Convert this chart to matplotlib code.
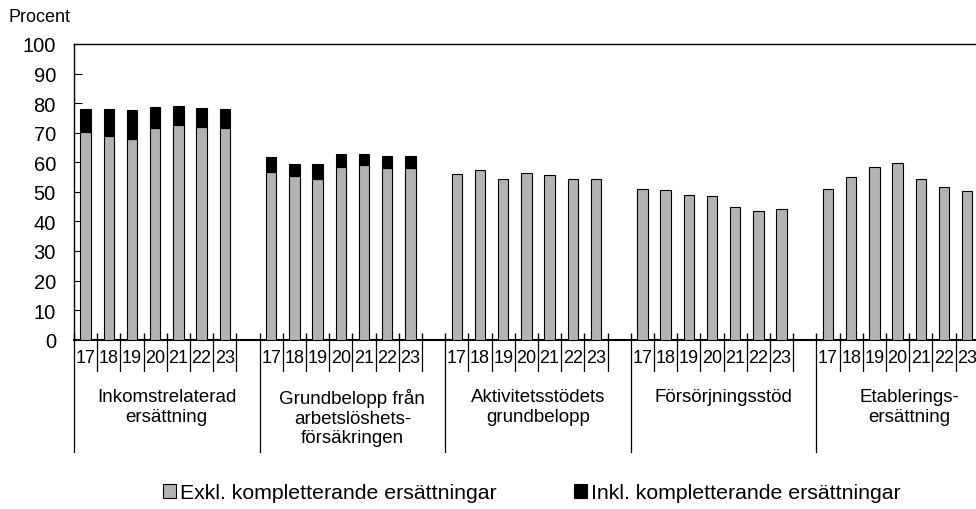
import matplotlib.pyplot as plt
from matplotlib.patches import Patch
from matplotlib.transforms import blended_transform_factory

plt.rcParams["font.family"] = ["Liberation Sans", "DejaVu Sans"]

groups = [
    "Inkomstrelaterad\nersättning",
    "Grundbelopp från\narbetslöshets-\nförsäkringen",
    "Aktivitetsstödets\ngrundbelopp",
    "Försörjningsstöd",
    "Etablerings-\nersättning",
]
years = ["17", "18", "19", "20", "21", "22", "23"]

# Exkl. kompletterande ersättningar
exkl = [
    [70.1, 68.8, 67.8, 71.5, 72.5, 71.9, 71.5],
    [56.6, 55.4, 54.3, 58.5, 59.2, 58.2, 58.2],
    [55.9, 57.5, 54.5, 56.3, 55.7, 54.5, 54.5],
    [51.0, 50.7, 49.0, 48.7, 44.8, 43.4, 44.3],
    [51.0, 55.1, 58.5, 59.8, 54.2, 51.5, 50.4],
]
# Inkl. kompletterande ersättningar (total)
inkl = [
    [78.0, 78.1, 77.6, 78.6, 78.9, 78.4, 78.0],
    [61.7, 59.4, 59.3, 62.7, 62.7, 62.0, 62.2],
    [None] * 7,
    [None] * 7,
    [None] * 7,
]

slots = 8
W, H = 976, 510
fig = plt.figure(figsize=(W / 100, H / 100), dpi=100)
x0, y0, ytop = 74, 340.7, 45
ax_w = len(groups) * slots * 23.2
ax = fig.add_axes([x0 / W, 1 - y0 / H, ax_w / W, (y0 - ytop) / H])

gray = "#b3b3b3"
for g in range(len(groups)):
    xs = [g * slots + i + 0.5 for i in range(len(years))]
    ax.bar(xs, exkl[g], width=0.45, color=gray, edgecolor="black", linewidth=0.8, zorder=3)
    tops = inkl[g]
    for x, lo, hi in zip(xs, exkl[g], tops):
        if hi is not None:
            ax.bar(x, hi - lo, bottom=lo, width=0.45, color="black",
                   edgecolor="black", linewidth=0.8, zorder=3)

ax.set_xlim(0, len(groups) * slots)
ax.set_ylim(0, 100)
ax.set_yticks(range(0, 101, 10))
ax.tick_params(axis="y", direction="in", length=6, labelsize=14.5, pad=13)
ax.set_xticks(range(0, len(groups) * slots + 1))
ax.set_xticklabels([])
ax.tick_params(axis="x", direction="in", length=5, width=1)
for s in ["top", "left", "bottom", "right"]:
    ax.spines[s].set_linewidth(1)
ax.spines["bottom"].set_linewidth(1.5)

trans = blended_transform_factory(ax.transData, ax.transAxes)
ah = y0 - ytop
for g in range(len(groups)):
    base = g * slots
    for i, yr in enumerate(years):
        ax.text(base + i + 0.5, -(359 - y0) / ah, yr, transform=trans,
                ha="center", va="center", fontsize=13)
    for k in range(1, len(years) + 1):
        ax.plot([base + k, base + k], [0, -(372 - y0) / ah], transform=trans,
                color="black", lw=0.9, clip_on=False)
    ax.plot([base, base], [0, -(453 - y0) / ah], transform=trans,
            color="black", lw=0.9, clip_on=False)
    ax.text(base + slots / 2, -(389 - y0) / ah, groups[g], transform=trans,
            ha="center", va="top", fontsize=13.5, linespacing=1.2)

fig.text(8 / W, 1 - 18 / H, "Procent", fontsize=13, ha="left", va="center")

leg_kw = dict(frameon=False, fontsize=15.3, handlelength=0.62, handleheight=0.62,
              handletextpad=0.2, borderpad=0, borderaxespad=0, loc="center left")
fig.legend(handles=[Patch(facecolor=gray, edgecolor="black", lw=0.8,
                          label="Exkl. kompletterande ersättningar")],
           bbox_to_anchor=(163 / W, 1 - 494 / H), **leg_kw)
fig.legend(handles=[Patch(facecolor="black", edgecolor="black", lw=0.8,
                          label="Inkl. kompletterande ersättningar")],
           bbox_to_anchor=(574 / W, 1 - 494 / H), **leg_kw)

fig.savefig("out.png", dpi=100)
